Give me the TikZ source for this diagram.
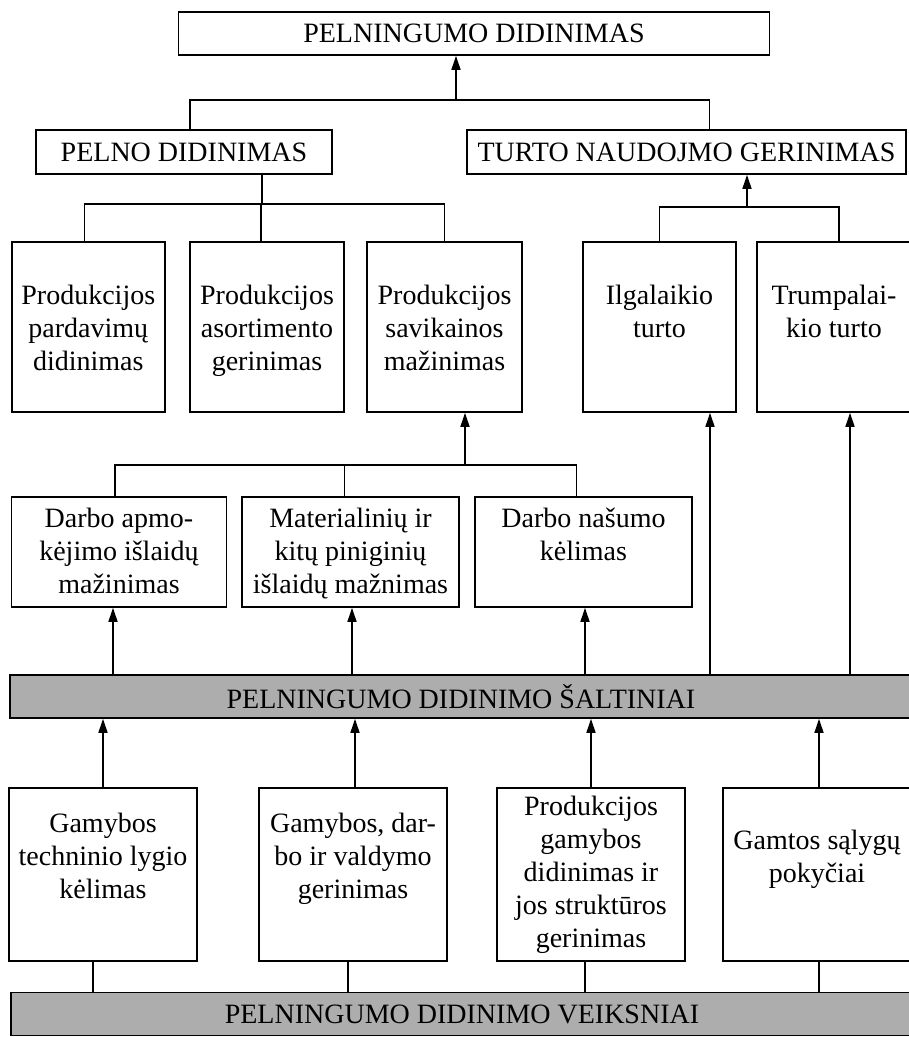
\documentclass[tikz,border=0pt]{standalone}
\usepackage{fontspec}
\setmainfont{Liberation Serif}
\usetikzlibrary{arrows.meta}

\tikzset{
  box/.style={draw, line width=1.6pt, inner sep=0pt},
  band/.style={draw, line width=1.6pt, fill=black!32, minimum width=902, minimum height=43, inner sep=0pt},
  txt/.style={anchor=north, align=center, inner sep=0pt},
  link/.style={line width=1.5pt},
}

\begin{document}
\begin{tikzpicture}[x=1pt, y=-1pt, >={Triangle[length=14pt,width=9pt]},
  font=\fontsize{28}{33}\selectfont]

  \useasboundingbox (0,0) rectangle (909,1037);

  % --- 1. virsutiniai lygiai ---
  \node[box, minimum width=591, minimum height=43] (top) at (474,33.5) {PELNINGUMO DIDINIMAS};
  \node[box, minimum width=296, minimum height=44] (pelno) at (184,152) {PELNO DIDINIMAS};
  \node[box, minimum width=439, minimum height=44] (turto) at (686.5,152) {TURTO NAUDOJMO GERINIMAS};

  % --- 2. antras lygis (h = 170) ---
  \node[box, minimum width=153, minimum height=170,
    label={[txt, yshift=-44]north:{Produkcijos\\pardavimų\\didinimas}}] (b1) at (88.3,327) {};
  \node[box, minimum width=154, minimum height=170,
    label={[txt, yshift=-44]north:{Produkcijos\\asortimento\\gerinimas}}] (b2) at (267,327) {};
  \node[box, minimum width=155, minimum height=170,
    label={[txt, yshift=-44]north:{Produkcijos\\savikainos\\mažinimas}}] (b3) at (444.5,327) {};
  \node[box, minimum width=153, minimum height=170,
    label={[txt, yshift=-44]north:{Ilgalaikio\\turto}}] (b4) at (659.5,327) {};
  \node[box, minimum width=154, minimum height=170,
    label={[txt, yshift=-44]north:{Trumpalai-\\kio turto}}] (b5) at (834,327) {};

  % --- 3. savikainos mazinimo dalys ---
  \node[box, minimum width=215, minimum height=110,
    label={[txt, yshift=-12]north:{Darbo apmo-\\kėjimo išlaidų\\mažinimas}}] (c1) at (119,552) {};
  \node[box, minimum width=217, minimum height=110,
    label={[txt, yshift=-12]north:{Materialinių ir\\kitų piniginių\\išlaidų mažnimas}}] (c2) at (350.5,552) {};
  \node[box, minimum width=217, minimum height=110,
    label={[txt, yshift=-12]north:{Darbo našumo\\kėlimas}}] (c3) at (583.5,552) {};

  % --- 4. juostos ---
  \node[band] (salt) at (461,696.5) {PELNINGUMO DIDINIMO ŠALTINIAI};
  \node[band] (veik) at (462,1014) {PELNINGUMO DIDINIMO VEIKSNIAI};

  % --- 5. veiksniai (h = 173) ---
  \node[box, minimum width=188, minimum height=173,
    label={[txt, yshift=-26]north:{Gamybos\\techninio lygio\\kėlimas}}] (d1) at (103,874.5) {};
  \node[box, minimum width=188, minimum height=173,
    label={[txt, yshift=-26]north:{Gamybos, dar-\\bo ir valdymo\\gerinimas}}] (d2) at (353,874.5) {};
  \node[box, minimum width=188, minimum height=173,
    label={[txt, yshift=-9]north:{Produkcijos\\gamybos\\didinimas ir\\jos struktūros\\gerinimas}}] (d3) at (591,874.5) {};
  \node[box, minimum width=188, minimum height=173,
    label={[txt, yshift=-43]north:{Gamtos sąlygų\\pokyčiai}}] (d4) at (817,874.5) {};

  % --- 6. jungtys tarp lygiu ---
  \coordinate (j0) at (456,100);
  \draw[link, ->] (j0) -- (j0 |- top.south);
  \draw[link] ([xshift=6]pelno.north) |- (j0) -| ([xshift=23]turto.north);

  \coordinate (j1) at (262,204);
  \draw[link] ([xshift=78]pelno.south) -- (j1);
  \draw[link] ([xshift=-4]b1.north) |- (j1) -| (b3.north);
  \draw[link] ([xshift=-6]b2.north) -- ([xshift=-6]b2.north |- j1);

  \coordinate (j2) at (747,207);
  \draw[link, ->] (j2) -- (j2 |- turto.south);
  \draw[link] (b4.north) |- (j2) -| ([xshift=5]b5.north);

  \coordinate (j3) at (465,465);
  \draw[link, ->] (j3) -- (j3 |- b3.south);
  \draw[link] ([xshift=-4]c1.north) |- (j3) -| ([xshift=-7]c3.north);
  \draw[link] ([xshift=-6]c2.north) -- ([xshift=-6]c2.north |- j3);

  % --- 7. saltiniai -> rodykles aukstyn ---
  \coordinate (a1) at ([xshift=-6]c1.south);
  \coordinate (a2) at ([xshift=1.5]c2.south);
  \coordinate (a3) at ([xshift=1.5]c3.south);
  \coordinate (a4) at ([xshift=50.5]b4.south);
  \coordinate (a5) at ([xshift=16]b5.south);
  \draw[link, <-] (a1) -- (a1 |- salt.north);
  \draw[link, <-] (a2) -- (a2 |- salt.north);
  \draw[link, <-] (a3) -- (a3 |- salt.north);
  \draw[link, <-] (a4) -- (a4 |- salt.north);
  \draw[link, <-] (a5) -- (a5 |- salt.north);

  % --- 8. veiksniai -> saltiniai ---
  \draw[link, ->] (d1.north) -- (d1.north |- salt.south);
  \draw[link, ->] ([xshift=2]d2.north) -- ([xshift=2]d2.north |- salt.south);
  \draw[link, ->] (d3.north) -- (d3.north |- salt.south);
  \draw[link, ->] ([xshift=2]d4.north) -- ([xshift=2]d4.north |- salt.south);

  \coordinate (v1) at ([xshift=-10]d1.south);
  \coordinate (v2) at ([xshift=-5]d2.south);
  \coordinate (v3) at ([xshift=-6]d3.south);
  \coordinate (v4) at ([xshift=2]d4.south);
  \draw[link] (v1) -- (v1 |- veik.north);
  \draw[link] (v2) -- (v2 |- veik.north);
  \draw[link] (v3) -- (v3 |- veik.north);
  \draw[link] (v4) -- (v4 |- veik.north);

\end{tikzpicture}
\end{document}
